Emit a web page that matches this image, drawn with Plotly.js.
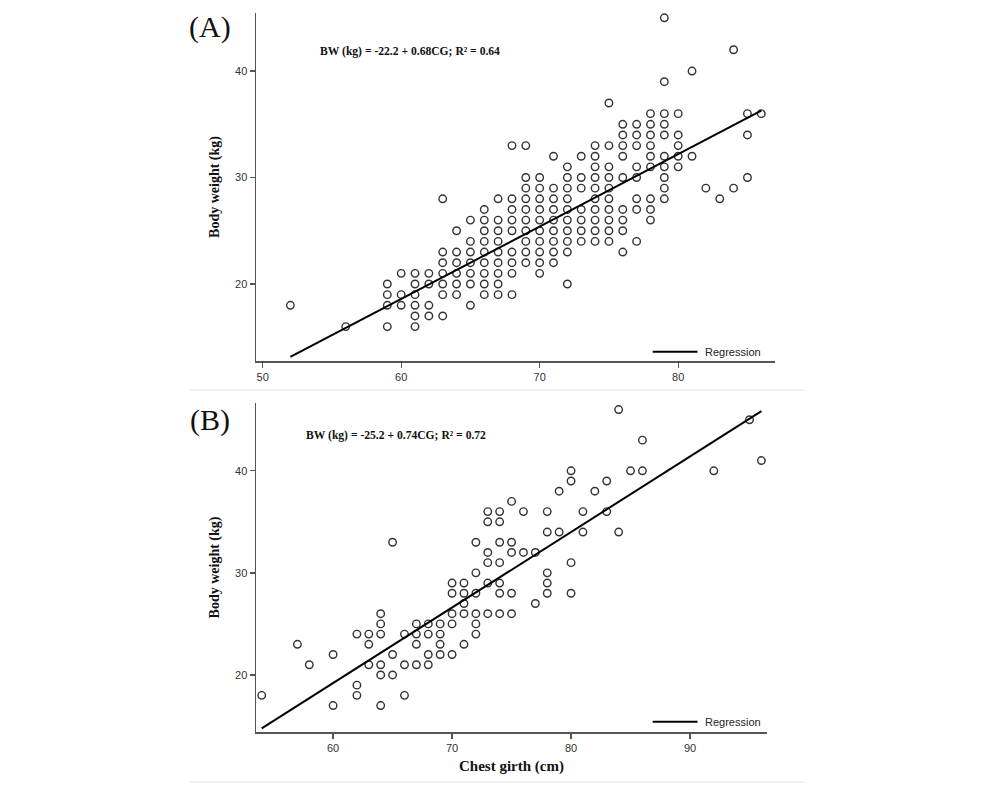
<!DOCTYPE html>
<html>
<head>
<meta charset="utf-8">
<script src="https://cdn.plot.ly/plotly-3.0.1.min.js"></script>
<style>html,body{margin:0;padding:0;background:#fff;}#chart{width:990px;height:795px;}</style>
</head>
<body>
<div id="chart"></div>
<script>
// ---- Panel A data: body weight levels and the chest girths observed at each level ----
const aWeightLevels = [45, 42, 40, 39, 37, 36, 35, 34, 33, 32, 31, 30, 29, 28, 27, 26, 25, 24, 23, 22, 21, 20, 19, 18, 17, 16];
const aGirthByLevel = [
  [79],
  [84],
  [81],
  [79],
  [75],
  [78, 79, 80, 85, 86],
  [76, 77, 78, 79],
  [76, 77, 78, 79, 80, 85],
  [68, 69, 74, 75, 76, 77, 78, 80],
  [71, 73, 74, 76, 78, 79, 80, 81],
  [72, 74, 75, 77, 78, 79, 80],
  [69, 70, 72, 73, 74, 75, 76, 77, 79, 85],
  [69, 70, 71, 72, 73, 74, 75, 79, 82, 84],
  [63, 67, 68, 69, 70, 71, 72, 74, 75, 77, 78, 79, 83],
  [66, 68, 69, 70, 71, 72, 73, 74, 75, 76, 77, 78],
  [65, 66, 67, 68, 69, 70, 71, 72, 73, 74, 75, 76, 78],
  [64, 66, 67, 68, 69, 70, 71, 72, 73, 74, 75, 76],
  [65, 66, 67, 69, 70, 71, 72, 73, 74, 75, 77],
  [63, 64, 65, 66, 67, 68, 69, 70, 71, 72, 76],
  [63, 64, 65, 66, 67, 68, 69, 70, 71],
  [60, 61, 62, 63, 64, 65, 66, 67, 68, 70],
  [59, 61, 62, 63, 64, 65, 66, 67, 72],
  [59, 60, 61, 63, 64, 66, 67, 68],
  [52, 59, 60, 61, 62, 65],
  [61, 62, 63],
  [56, 59, 61]
];

// ---- Panel B data ----
const bGirth = [54, 57, 58, 60, 60, 62, 62, 62, 63, 63, 63, 64, 64, 64, 64, 64, 64, 65, 65, 65,
  66, 66, 66, 67, 67, 67, 67, 68, 68, 68, 68, 69, 69, 69, 69, 70, 70, 70, 70, 70,
  71, 71, 71, 71, 71, 72, 72, 72, 72, 72, 72, 73, 73, 73, 73, 73, 73, 74, 74, 74, 74, 74, 74, 74,
  75, 75, 75, 75, 75, 76, 76, 77, 77, 78, 78, 78, 78, 78, 79, 79, 80, 80, 80, 80,
  81, 81, 82, 83, 83, 84, 84, 85, 86, 86, 92, 95, 96];
const bWeight = [18, 23, 21, 22, 17, 24, 19, 18, 24, 23, 21, 26, 25, 24, 21, 20, 17, 33, 22, 20,
  24, 21, 18, 25, 24, 23, 21, 25, 24, 22, 21, 25, 24, 23, 22, 29, 28, 26, 25, 22,
  29, 28, 27, 26, 23, 33, 30, 28, 26, 25, 24, 36, 35, 32, 31, 29, 26, 36, 35, 33, 31, 29, 28, 26,
  37, 33, 32, 28, 26, 36, 32, 32, 27, 36, 34, 30, 29, 28, 38, 34, 40, 39, 31, 28,
  36, 34, 38, 39, 36, 46, 34, 40, 43, 40, 40, 45, 41];

// ---- Regression equations (intercept, slope, fitted girth span) ----
const regIntercept = [-22.2, -25.2];
const regSlope = [0.68, 0.74];
const regGirthSpan = [[52, 86], [54, 96]];
const equationText = ["BW (kg) = -22.2 + 0.68CG; R² = 0.64", "BW (kg) = -25.2 + 0.74CG; R² = 0.72"];
const panelLabels = ["(A)", "(B)"];
const xTicksA = [50, 60, 70, 80];
const xTicksB = [60, 70, 80, 90];
const yTicks = [20, 30, 40];

// flatten panel A
const aGirth = [], aWeight = [];
aWeightLevels.forEach((w, i) => aGirthByLevel[i].forEach(g => { aGirth.push(g); aWeight.push(w); }));

function regLine(k) {
  const xs = regGirthSpan[k];
  return { x: xs, y: xs.map(v => regIntercept[k] + regSlope[k] * v) };
}

const W = 990, H = 795;
const L = 256, R = 215, T = 13, B = 63;
const PW = W - L - R, PH = H - T - B;
const px = p => (p - L) / PW;
const py = p => (H - B - p) / PH;

const markerStyle = { symbol: 'circle-open', size: 7.5, color: '#333', line: { width: 1.4, color: '#333' } };
const lineStyle = { color: '#000', width: 2 };

const rA = regLine(0), rB = regLine(1);
const traces = [
  { type: 'scatter', mode: 'markers', x: aGirth, y: aWeight, xaxis: 'x', yaxis: 'y', marker: markerStyle, showlegend: false, hoverinfo: 'x+y' },
  { type: 'scatter', mode: 'lines', x: rA.x, y: rA.y, xaxis: 'x', yaxis: 'y', line: lineStyle, name: 'Regression', showlegend: false },
  { type: 'scatter', mode: 'markers', x: bGirth, y: bWeight, xaxis: 'x2', yaxis: 'y2', marker: markerStyle, showlegend: false, hoverinfo: 'x+y' },
  { type: 'scatter', mode: 'lines', x: rB.x, y: rB.y, xaxis: 'x2', yaxis: 'y2', line: lineStyle, name: 'Regression', showlegend: false }
];

const sans = 'Liberation Sans, Arial, sans-serif';
const serif = 'Liberation Serif, Times New Roman, serif';
const axisCommon = {
  showline: true, linecolor: '#555', linewidth: 1.5, mirror: false,
  showgrid: false, zeroline: false, ticks: 'outside', ticklen: 5, tickwidth: 1.3, tickcolor: '#555',
  tickfont: { family: sans, size: 11, color: '#333' }, fixedrange: true
};
const yTitle = { text: '<b>Body weight (kg)</b>', font: { family: serif, size: 14, color: '#111' }, standoff: 12 };

const layout = {
  width: W, height: H,
  margin: { l: L, r: R, t: T, b: B },
  paper_bgcolor: '#fff', plot_bgcolor: '#fff',
  showlegend: false,
  xaxis: Object.assign({}, axisCommon, { domain: [0, 1], range: [49.52, 86.99], tickvals: xTicksA, anchor: 'y' }),
  yaxis: Object.assign({}, axisCommon, { domain: [py(361), 1], range: [12.77, 45.45], tickvals: yTicks, anchor: 'x', title: yTitle }),
  xaxis2: Object.assign({}, axisCommon, { domain: [0, px(767)], range: [53.52, 96.47], tickvals: xTicksB, anchor: 'y2',
    title: { text: '<b>Chest girth (cm)</b>', font: { family: serif, size: 15, color: '#111' }, standoff: 8 } }),
  yaxis2: Object.assign({}, axisCommon, { domain: [0, py(403)], range: [14.41, 46.64], tickvals: yTicks, anchor: 'x2', title: yTitle }),
  shapes: [
    { type: 'line', xref: 'paper', yref: 'paper', x0: px(652.7), x1: px(697.5), y0: py(351.7), y1: py(351.7), line: { color: '#000', width: 2 } },
    { type: 'line', xref: 'paper', yref: 'paper', x0: px(652.7), x1: px(697.5), y0: py(721.7), y1: py(721.7), line: { color: '#000', width: 2 } },
    { type: 'line', xref: 'paper', yref: 'paper', x0: px(190), x1: px(805), y0: py(390), y1: py(390), line: { color: '#e6e6e6', width: 1 } },
    { type: 'line', xref: 'paper', yref: 'paper', x0: px(190), x1: px(805), y0: py(782), y1: py(782), line: { color: '#e6e6e6', width: 1 } }
  ],
  annotations: [
    { xref: 'paper', yref: 'paper', x: px(703), y: py(351.7), xanchor: 'left', yanchor: 'middle', showarrow: false, text: 'Regression', font: { family: sans, size: 11, color: '#222' } },
    { xref: 'paper', yref: 'paper', x: px(703), y: py(721.7), xanchor: 'left', yanchor: 'middle', showarrow: false, text: 'Regression', font: { family: sans, size: 11, color: '#222' } },
    { xref: 'paper', yref: 'paper', x: px(409.5), y: py(52), xanchor: 'center', yanchor: 'middle', showarrow: false, text: '<b>' + equationText[0] + '</b>', font: { family: serif, size: 11.6, color: '#111' } },
    { xref: 'paper', yref: 'paper', x: px(396), y: py(435), xanchor: 'center', yanchor: 'middle', showarrow: false, text: '<b>' + equationText[1] + '</b>', font: { family: serif, size: 11.6, color: '#111' } },
    { xref: 'paper', yref: 'paper', x: px(210), y: py(27), xanchor: 'center', yanchor: 'middle', showarrow: false, text: panelLabels[0], font: { family: serif, size: 30, color: '#111' } },
    { xref: 'paper', yref: 'paper', x: px(210), y: py(420), xanchor: 'center', yanchor: 'middle', showarrow: false, text: panelLabels[1], font: { family: serif, size: 30, color: '#111' } }
  ]
};

Plotly.newPlot('chart', traces, layout, { staticPlot: true, displayModeBar: false });
</script>
</body>
</html>
